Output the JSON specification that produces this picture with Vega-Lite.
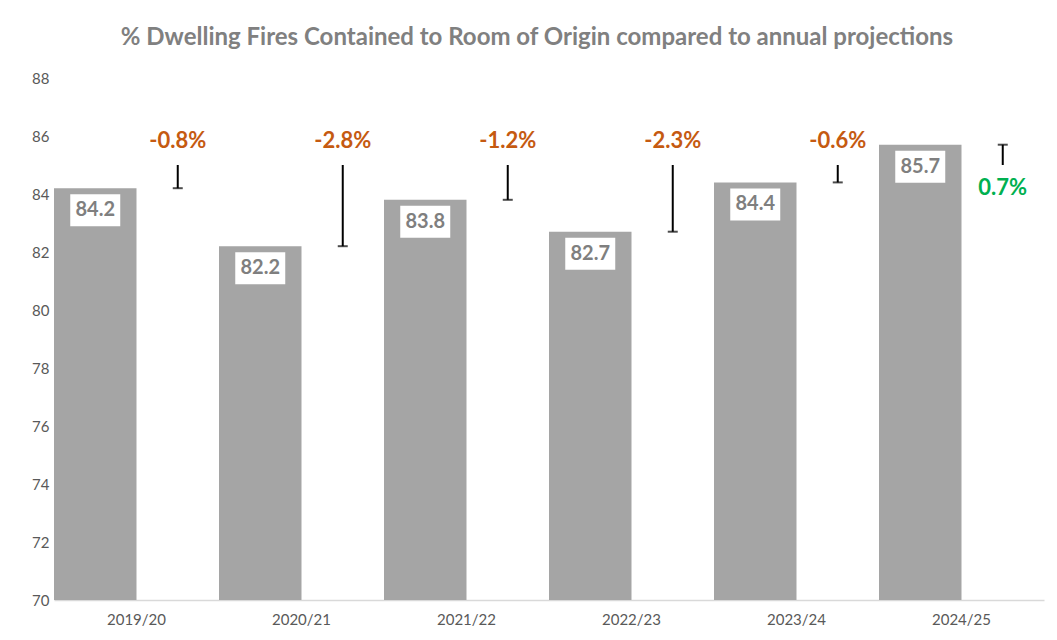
{
  "$schema": "https://vega.github.io/schema/vega-lite/v6.json",
  "width": 990,
  "height": 522,
  "autosize": {"type": "none"},
  "padding": {"left": 54, "top": 78, "right": 13, "bottom": 40},
  "background": "white",
  "config": {"view": {"stroke": null}, "font": "Lato"},
  "title": {
    "text": "% Dwelling Fires Contained to Room of Origin compared to annual projections",
    "font": "Lato",
    "fontSize": 24,
    "fontWeight": "bold",
    "color": "#808080",
    "anchor": "middle",
    "frame": "group",
    "baseline": "alphabetic",
    "offset": 2,
    "dx": -12
  },
  "data": {
    "values": [
      {"year": "2019/20", "actual": 84.2, "projection": 85, "diff": -0.8, "label": "-0.8%", "a": "a", "b": "b"},
      {"year": "2020/21", "actual": 82.2, "projection": 85, "diff": -2.8, "label": "-2.8%", "a": "a", "b": "b"},
      {"year": "2021/22", "actual": 83.8, "projection": 85, "diff": -1.2, "label": "-1.2%", "a": "a", "b": "b"},
      {"year": "2022/23", "actual": 82.7, "projection": 85, "diff": -2.3, "label": "-2.3%", "a": "a", "b": "b"},
      {"year": "2023/24", "actual": 84.4, "projection": 85, "diff": -0.6, "label": "-0.6%", "a": "a", "b": "b"},
      {"year": "2024/25", "actual": 85.7, "projection": 85, "diff": 0.7, "label": "0.7%", "a": "a", "b": "b"}
    ]
  },
  "encoding": {
    "x": {
      "field": "year",
      "type": "nominal",
      "sort": null,
      "scale": {"paddingInner": 0, "paddingOuter": 0},
      "axis": {
        "title": null,
        "labelAngle": 0,
        "labelFont": "Lato",
        "labelFontSize": 15,
        "labelColor": "#595959",
        "labelPadding": 12,
        "ticks": false,
        "domainColor": "#D9D9D9",
        "domainWidth": 1.5
      }
    }
  },
  "layer": [
    {
      "mark": {"type": "bar", "color": "#A5A5A5"},
      "encoding": {
        "xOffset": {"field": "a", "type": "nominal", "scale": {"domain": ["a", "b"], "paddingInner": 0}},
        "y": {
          "field": "actual",
          "type": "quantitative",
          "scale": {"domain": [70, 88], "zero": false, "nice": false},
          "axis": {
            "title": null,
            "values": [70, 72, 74, 76, 78, 80, 82, 84, 86, 88],
            "grid": false,
            "domain": false,
            "ticks": false,
            "labelFont": "Lato",
            "labelFontSize": 15,
            "labelColor": "#595959",
            "labelPadding": 5
          }
        },
        "y2": {"datum": 70}
      }
    },
    {
      "mark": {"type": "bar", "color": "white", "width": 50, "yOffset": 6, "y2Offset": 38},
      "encoding": {
        "xOffset": {"field": "a", "type": "nominal", "scale": {"domain": ["a", "b"]}},
        "y": {"field": "actual", "type": "quantitative"},
        "y2": {"field": "actual"}
      }
    },
    {
      "mark": {"type": "text", "font": "Lato", "fontSize": 20, "fontWeight": "bold", "color": "#7F7F7F", "baseline": "middle", "dy": 22},
      "encoding": {
        "xOffset": {"field": "a", "type": "nominal", "scale": {"domain": ["a", "b"]}},
        "y": {"field": "actual", "type": "quantitative"},
        "text": {"field": "actual", "type": "quantitative", "format": ".1f"}
      }
    },
    {
      "mark": {"type": "rule", "color": "black", "strokeWidth": 2},
      "encoding": {
        "xOffset": {"field": "b", "type": "nominal", "scale": {"domain": ["a", "b"]}},
        "y": {"field": "actual", "type": "quantitative"},
        "y2": {"field": "projection"}
      }
    },
    {
      "mark": {"type": "tick", "color": "black", "thickness": 2, "size": 10, "orient": "horizontal"},
      "encoding": {
        "xOffset": {"field": "b", "type": "nominal", "scale": {"domain": ["a", "b"]}},
        "y": {"field": "actual", "type": "quantitative"}
      }
    },
    {
      "transform": [{"filter": "datum.diff < 0"}],
      "mark": {"type": "text", "font": "Lato", "fontSize": 22, "fontWeight": "bold", "color": "#C55A11", "baseline": "middle", "dy": -24},
      "encoding": {
        "xOffset": {"field": "b", "type": "nominal", "scale": {"domain": ["a", "b"]}},
        "y": {"field": "projection", "type": "quantitative"},
        "text": {"field": "label"}
      }
    },
    {
      "transform": [{"filter": "datum.diff >= 0"}],
      "mark": {"type": "text", "font": "Lato", "fontSize": 22, "fontWeight": "bold", "color": "#00B050", "baseline": "middle", "dy": 23},
      "encoding": {
        "xOffset": {"field": "b", "type": "nominal", "scale": {"domain": ["a", "b"]}},
        "y": {"field": "projection", "type": "quantitative"},
        "text": {"field": "label"}
      }
    }
  ]
}
